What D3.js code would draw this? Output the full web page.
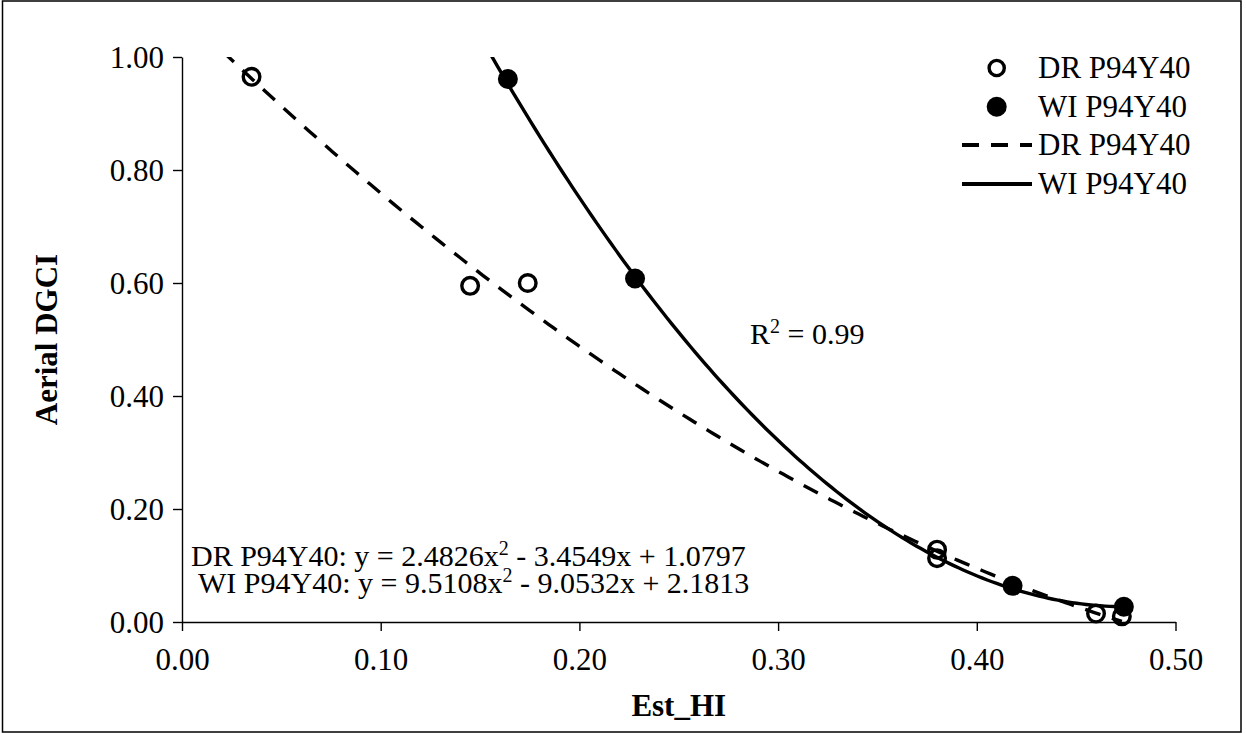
<!DOCTYPE html>
<html>
<head>
<meta charset="utf-8">
<script src="https://cdn.jsdelivr.net/npm/d3@7"></script>
<style>
  html, body { margin: 0; padding: 0; background: #fff; }
  svg, svg text { font-family: "Liberation Serif", "Times New Roman", serif; fill: #000; }
</style>
</head>
<body>
<svg id="chart" width="1246" height="733"></svg>
<script>
// Observed points (Est_HI vs Aerial DGCI)
const drX = [0.035, 0.145, 0.174, 0.380, 0.380, 0.460, 0.473];
const drY = [0.965, 0.595, 0.600, 0.128, 0.113, 0.015, 0.010];
const wiX = [0.164, 0.228, 0.418, 0.474];
const wiY = [0.961, 0.608, 0.064, 0.027];

// Quadratic trendline coefficients [a, b, c] for y = a x^2 + b x + c
const drCoef = [2.4826, -3.4549, 1.0797];
const wiCoef = [9.5108, -9.0532, 2.1813];
const r2Label = "0.99";

const seriesNames = ["DR P94Y40", "WI P94Y40"];
const xTicks = [0, 0.1, 0.2, 0.3, 0.4, 0.5];
const yTicks = [0, 0.2, 0.4, 0.6, 0.8, 1.0];

const SERIF = '"Liberation Serif", "Times New Roman", serif';
const FS = 31;

const svg = d3.select("#chart").style("font-family", SERIF);

// outer frame
svg.append("rect")
  .attr("x", 2.5).attr("y", 1).attr("width", 1238.5).attr("height", 731)
  .attr("fill", "none").attr("stroke", "#000").attr("stroke-width", 1.5);

const plot = { left: 182, right: 1175.5, top: 57, bottom: 622 };
const x = d3.scaleLinear().domain([0, 0.5]).range([plot.left, plot.right]);
const y = d3.scaleLinear().domain([0, 1]).range([plot.bottom, plot.top]);

// axes
const xAxis = d3.axisBottom(x).tickValues(xTicks).tickSize(9).tickSizeOuter(0)
  .tickFormat(d3.format(".2f"));
const yAxis = d3.axisLeft(y).tickValues(yTicks).tickSize(9).tickSizeOuter(0)
  .tickFormat(d3.format(".2f"));

const gx = svg.append("g").attr("transform", `translate(0,${plot.bottom})`).call(xAxis);
const gy = svg.append("g").attr("transform", `translate(${plot.left},0)`).call(yAxis);

[gx, gy].forEach(g => {
  g.attr("font-family", null).attr("font-size", null);
  g.select(".domain").attr("stroke", "#000").attr("stroke-width", 1.4);
  g.selectAll(".tick line").attr("stroke", "#000").attr("stroke-width", 1.4);
  g.selectAll(".tick text")
    .style("font-family", SERIF)
    .style("font-size", FS + "px").attr("fill", "#000");
});
gx.selectAll(".tick text").attr("y", 48).attr("dy", 0);
gy.selectAll(".tick text").attr("x", -18).attr("dy", "0.34em");

// axis titles
svg.append("text")
  .attr("x", (plot.left + plot.right) / 2).attr("y", 716)
  .attr("text-anchor", "middle")
  .style("font-family", SERIF).style("font-weight", "bold").style("font-size", FS + "px")
  .text("Est_HI");
svg.append("text")
  .attr("transform", `translate(57,${(plot.top + plot.bottom) / 2}) rotate(-90)`)
  .attr("text-anchor", "middle")
  .style("font-family", SERIF).style("font-weight", "bold").style("font-size", FS + "px")
  .text("Aerial DGCI");

// clip to plot area
svg.append("defs").append("clipPath").attr("id", "plotClip")
  .append("rect")
  .attr("x", plot.left).attr("y", plot.top)
  .attr("width", plot.right - plot.left).attr("height", plot.bottom - plot.top);

// trendline curves
const poly = c => v => c[0] * v * v + c[1] * v + c[2];
function curve(coef, xMax) {
  const f = poly(coef);
  const n = 200;
  return d3.range(n + 1).map(i => {
    const xv = xMax * i / n;
    return [xv, f(xv)];
  });
}
const line = d3.line().x(d => x(d[0])).y(d => y(d[1]));

const lines = svg.append("g").attr("clip-path", "url(#plotClip)");
lines.append("path")
  .attr("d", line(curve(drCoef, d3.max(drX))))
  .attr("fill", "none").attr("stroke", "#000").attr("stroke-width", 3.4)
  .attr("stroke-dasharray", "16,12");
lines.append("path")
  .attr("d", line(curve(wiCoef, d3.max(wiX))))
  .attr("fill", "none").attr("stroke", "#000").attr("stroke-width", 3.4);

// markers
svg.append("g").selectAll("circle")
  .data(drX.map((v, i) => [v, drY[i]]))
  .join("circle")
  .attr("cx", d => x(d[0])).attr("cy", d => y(d[1])).attr("r", 8.3)
  .attr("fill", "none").attr("stroke", "#000").attr("stroke-width", 3.4);
svg.append("g").selectAll("circle")
  .data(wiX.map((v, i) => [v, wiY[i]]))
  .join("circle")
  .attr("cx", d => x(d[0])).attr("cy", d => y(d[1])).attr("r", 10)
  .attr("fill", "#000");

// equation and R² labels with superscripts
function eqText(xPos, yPos, parts, size) {
  const t = svg.append("text").attr("x", xPos).attr("y", yPos)
    .style("font-family", SERIF).style("font-size", size + "px");
  let raised = false;
  parts.forEach(p => {
    if (p.sup) {
      t.append("tspan").style("font-size", Math.round(size * 0.65) + "px")
        .attr("dy", -11).text(p.sup);
      raised = true;
    } else {
      const s = t.append("tspan").text(p.t);
      if (raised) { s.attr("dy", 11); raised = false; }
    }
  });
  return t;
}
const fmt = v => Math.abs(v).toFixed(4);
function eqParts(name, c) {
  return [
    { t: `${name}: y = ${fmt(c[0])}x` }, { sup: "2" },
    { t: ` ${c[1] < 0 ? "-" : "+"} ${fmt(c[1])}x ${c[2] < 0 ? "-" : "+"} ${fmt(c[2])}` }
  ];
}
eqText(191, 566, eqParts(seriesNames[0], drCoef), 30);
eqText(198, 593, eqParts(seriesNames[1], wiCoef), 30);
eqText(750, 344, [{ t: "R" }, { sup: "2" }, { t: ` = ${r2Label}` }], 30);

// legend
const legend = svg.append("g");
const lgRows = [78, 116.7, 155, 194];
const lgMarkX = 996.7, lgTextX = 1038, lgLine = [962, 1032];
legend.append("circle").attr("cx", lgMarkX).attr("cy", lgRows[0] - 10).attr("r", 7.6)
  .attr("fill", "none").attr("stroke", "#000").attr("stroke-width", 3.4);
legend.append("circle").attr("cx", lgMarkX).attr("cy", lgRows[1] - 10).attr("r", 10)
  .attr("fill", "#000");
legend.append("line").attr("x1", lgLine[0]).attr("x2", lgLine[1])
  .attr("y1", lgRows[2] - 10).attr("y2", lgRows[2] - 10)
  .attr("stroke", "#000").attr("stroke-width", 4).attr("stroke-dasharray", "17,12");
legend.append("line").attr("x1", lgLine[0]).attr("x2", lgLine[1])
  .attr("y1", lgRows[3] - 10).attr("y2", lgRows[3] - 10)
  .attr("stroke", "#000").attr("stroke-width", 4);
[seriesNames[0], seriesNames[1], seriesNames[0], seriesNames[1]].forEach((name, i) => {
  legend.append("text").attr("x", lgTextX).attr("y", lgRows[i])
    .style("font-family", SERIF).style("font-size", FS + "px").text(name);
});
</script>
</body>
</html>
